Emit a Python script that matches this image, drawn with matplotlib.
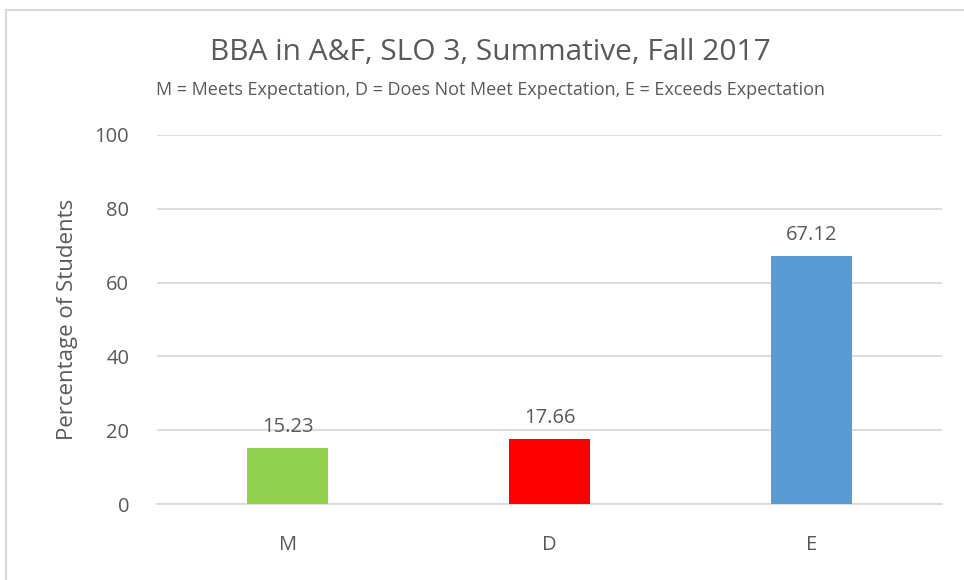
import matplotlib.pyplot as plt
from matplotlib.lines import Line2D

categories = ["M", "D", "E"]
percentages = [15.23, 17.66, 67.12]
bar_colors = ["#92D050", "#FF0000", "#5B9BD5"]
y_ticks = [0, 20, 40, 60, 80, 100]

title = "BBA in A&F, SLO 3, Summative, Fall 2017"
subtitle = "M = Meets Expectation, D = Does Not Meet Expectation, E = Exceeds Expectation"

text_color = "#595959"
plt.rcParams['font.family'] = ['Open Sans', 'DejaVu Sans']

fig = plt.figure(figsize=(9.64, 5.8), dpi=100)
W, H = 964, 580
ax = fig.add_axes([157 / W, 1 - 504 / H, (942 - 157) / W, (504 - 135) / H])

x = list(range(len(categories)))
bars = ax.bar(x, percentages, width=0.31, color=bar_colors, zorder=3)

for xi, v in zip(x, percentages):
    ax.annotate(f"{v:.2f}", (xi, v), xytext=(0, 8), textcoords="offset points",
                ha="center", va="bottom", fontsize=14.5, color=text_color)

ax.set_xlim(-0.5, 2.5)
ax.set_ylim(0, 100)
ax.set_yticks(y_ticks)
ax.set_xticks(x)
ax.set_xticklabels(categories)
ax.grid(axis="y", color="#D9D9D9", linewidth=1.3, zorder=0)
for s in ["top", "right", "left"]:
    ax.spines[s].set_visible(False)
ax.spines["bottom"].set_color("#D9D9D9")
ax.spines["bottom"].set_linewidth(1.3)
ax.tick_params(axis="both", length=0, labelsize=14.5, colors=text_color)
ax.tick_params(axis="y", pad=20)
ax.tick_params(axis="x", pad=22)
ax.set_ylabel("Percentage of Students", fontsize=16, color=text_color, labelpad=12)

fig.text(490 / W, 1 - 52 / H, title, ha="center", va="center", fontsize=21.5, color=text_color)
fig.text(490 / W, 1 - 90 / H, subtitle, ha="center", va="center", fontsize=13, color=text_color)

# chart border (left and top edges visible)
fig.add_artist(Line2D([6 / W, 6 / W], [0, 1 - 10 / H], transform=fig.transFigure,
                      color="#D9D9D9", linewidth=1.5))
fig.add_artist(Line2D([6 / W, 1], [1 - 10 / H, 1 - 10 / H], transform=fig.transFigure,
                      color="#D9D9D9", linewidth=1.5))

fig.savefig("out.png", dpi=100)
